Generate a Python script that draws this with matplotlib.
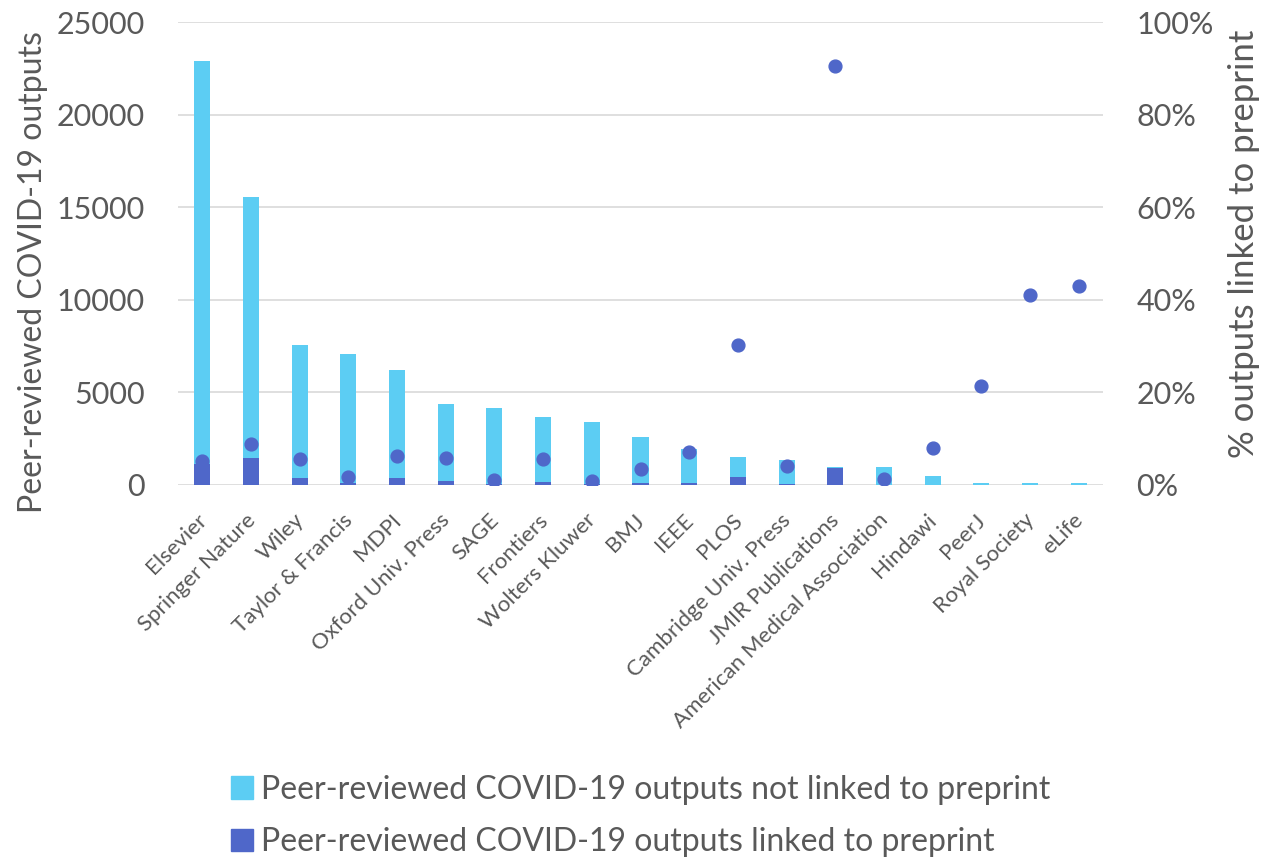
import numpy as np
import matplotlib.pyplot as plt
import matplotlib.transforms as mtransforms
from matplotlib.ticker import FuncFormatter
from matplotlib.patches import Patch

plt.rcParams['font.family'] = ['Lato', 'DejaVu Sans']

publishers = ['Elsevier', 'Springer Nature', 'Wiley', 'Taylor & Francis', 'MDPI',
              'Oxford Univ. Press', 'SAGE', 'Frontiers', 'Wolters Kluwer', 'BMJ',
              'IEEE', 'PLOS', 'Cambridge Univ. Press', 'JMIR Publications',
              'American Medical Association', 'Hindawi', 'PeerJ', 'Royal Society', 'eLife']
linked = [1130, 1440, 400, 90, 400, 230, 40, 160, 30, 90, 90, 450, 50, 900, 15, 20, 10, 10, 10]
not_linked = [21770, 14110, 7170, 6970, 5830, 4140, 4100, 3530, 3360, 2480, 1850, 1060, 1300, 90, 975, 450, 80, 80, 80]
pct_linked = [5.2, 8.9, 5.6, 1.8, 6.2, 5.9, 1.1, 5.6, 0.8, 3.5, 7.1, 30.2, 4.0, 90.5, 1.3, 8.0, 21.4, 41.0, 43.0]

light = '#5ccdf3'
dark = '#4f67c9'
grey = '#595959'

fig = plt.figure(figsize=(12.62, 8.6), dpi=100)
ax = fig.add_axes([178 / 1262, 1 - 485 / 860, (1103 - 178) / 1262, (485 - 22) / 860])
x = np.arange(len(publishers))
w = 0.33
ax.bar(x, linked, w, color=dark, zorder=2)
ax.bar(x, not_linked, w, bottom=linked, color=light, zorder=2)
ax.set_ylim(0, 25000)
ax.set_xlim(-0.5, len(publishers) - 0.5)
ax.set_yticks(np.arange(0, 25001, 5000))
ax.yaxis.grid(True, color='#d9d9d9', lw=1.2, zorder=0)
for s in ax.spines.values():
    s.set_visible(False)
ax.tick_params(axis='both', length=0, colors=grey)
ax.tick_params(axis='y', labelsize=22, pad=24)
ax.set_xticks(x)
ax.set_xticklabels(publishers, rotation=45, ha='right', rotation_mode='anchor',
                   fontsize=16, color=grey)
ax.tick_params(axis='x', pad=18)
shift = mtransforms.ScaledTranslation(-6 / 100, 0, fig.dpi_scale_trans)
for lbl in ax.get_xticklabels():
    lbl.set_transform(lbl.get_transform() + shift)
ax.set_ylabel('Peer-reviewed COVID-19 outputs', fontsize=23, color=grey)
ax.yaxis.set_label_coords(-130 / 925, 0.46)

ax2 = ax.twinx()
ax2.scatter(x, pct_linked, s=85, color=dark, zorder=3)
ax2.set_ylim(0, 100)
ax2.set_yticks(np.arange(0, 101, 20))
ax2.yaxis.set_major_formatter(FuncFormatter(lambda v, p: '%d%%' % v))
for s in ax2.spines.values():
    s.set_visible(False)
ax2.tick_params(axis='y', length=0, colors=grey, labelsize=22, pad=24)
ax2.set_ylabel('% outputs linked to preprint', fontsize=25, color=grey)
ax2.yaxis.set_label_coords(1 + 125 / 925, 0.52)

handles = [Patch(color=light, label='Peer-reviewed COVID-19 outputs not linked to preprint'),
           Patch(color=dark, label='Peer-reviewed COVID-19 outputs linked to preprint')]
leg = fig.legend(handles=handles, loc='upper left', bbox_to_anchor=(202 / 1262, 1 - 746 / 860),
                 frameon=False, fontsize=23, handlelength=0.7, handleheight=0.7,
                 labelspacing=0.7, handletextpad=0.25)
for t in leg.get_texts():
    t.set_color(grey)

fig.savefig('out.png', dpi=100)
